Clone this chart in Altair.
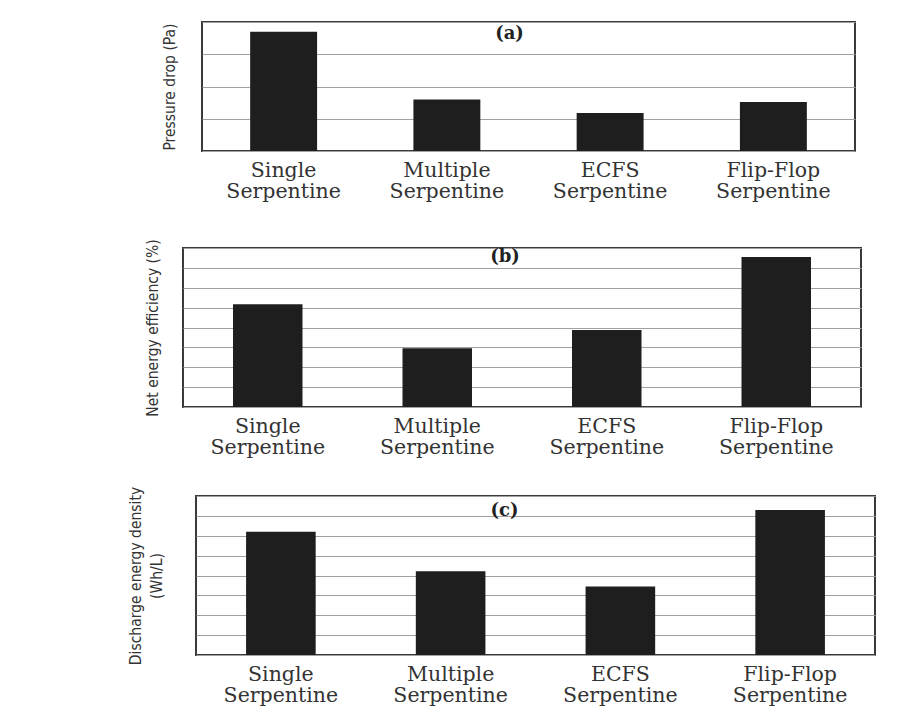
import altair as alt
import pandas as pd

categories = ["Single Serpentine", "Multiple Serpentine", "ECFS Serpentine", "Flip-Flop Serpentine"]
pressure_drop = [3.7, 1.6, 1.18, 1.52]
net_efficiency = [5.17, 2.95, 3.88, 7.55]
energy_density = [6.2, 4.22, 3.45, 7.3]

panel_labels = ["(a)", "(b)", "(c)"]
y_titles = ["Pressure drop (Pa)", "Net energy efficiency (%)", ["Discharge energy density", "(Wh/L)"]]
grid_a = [0, 1, 2, 3, 4]
grid_bc = [0, 1, 2, 3, 4, 5, 6, 7, 8]

SERIF = "DejaVu Serif"
NARROW = "Liberation Sans Narrow, DejaVu Sans Condensed, Arial Narrow, sans-serif"


def panel(values, label, ytitle, grid, width, height, title_pad, dx, off):
    df = pd.DataFrame({"cat": categories, "val": values})
    return alt.Chart(df).mark_bar(color="#1e1e1e").encode(
        x=alt.X("cat:N", sort=categories, title=None,
                scale=alt.Scale(paddingInner=0.59, paddingOuter=0.295),
                axis=alt.Axis(labelAngle=0, labelExpr="split(datum.label, ' ')",
                              labelFont=SERIF, labelFontSize=20.5, labelLineHeight=21,
                              labelColor="#333333", labelPadding=9, ticks=False,
                              domain=False, grid=False)),
        y=alt.Y("val:Q", title=ytitle,
                scale=alt.Scale(domain=[grid[0], grid[-1]], nice=False),
                axis=alt.Axis(values=grid, labels=False, ticks=False, domain=False,
                              grid=True, gridColor="#a0a0a0", gridWidth=1,
                              titleFont=NARROW, titleFontSize=15.5, titleFontWeight="normal",
                              titleColor="#333333", titlePadding=title_pad,
                              titleLineHeight=21, minExtent=0, maxExtent=0)),
    ).properties(
        width=width, height=height,
        title=alt.TitleParams(label, font=SERIF, fontSize=18, fontWeight="bold",
                              color="#222222", anchor="middle", baseline="middle",
                              offset=off, dx=dx),
    )


def spacer(w):
    return alt.Chart(pd.DataFrame({"s": [0]})).mark_point(size=0, opacity=0).encode(
        x=alt.value(1), y=alt.value(1)
    ).properties(width=w, height=40, view=alt.ViewBackground(stroke="transparent", strokeWidth=0))


pa = panel(pressure_drop, panel_labels[0], y_titles[0], grid_a, 653, 129, 25, -19, -30)
pb = panel(net_efficiency, panel_labels[1], y_titles[1], grid_bc, 678, 159, 23, -17, -36)
pc = panel(energy_density, panel_labels[2], y_titles[2], grid_bc, 679, 159, 32, -31, -43)

row_a = alt.hconcat(spacer(39.5), pa, spacing=0)
row_b = alt.hconcat(spacer(23.5), pb, spacing=0)
row_c = alt.hconcat(spacer(6.5), pc, spacing=0)

chart = alt.vconcat(row_a, alt.vconcat(row_b, row_c, spacing=26), spacing=34).properties(
    padding={"left": 120, "top": 21, "right": 0, "bottom": 0},
    background="white",
).configure_view(stroke="#3a3a3a", strokeWidth=2)

chart.save("out.html", embed_options={"renderer": "svg", "actions": False})
